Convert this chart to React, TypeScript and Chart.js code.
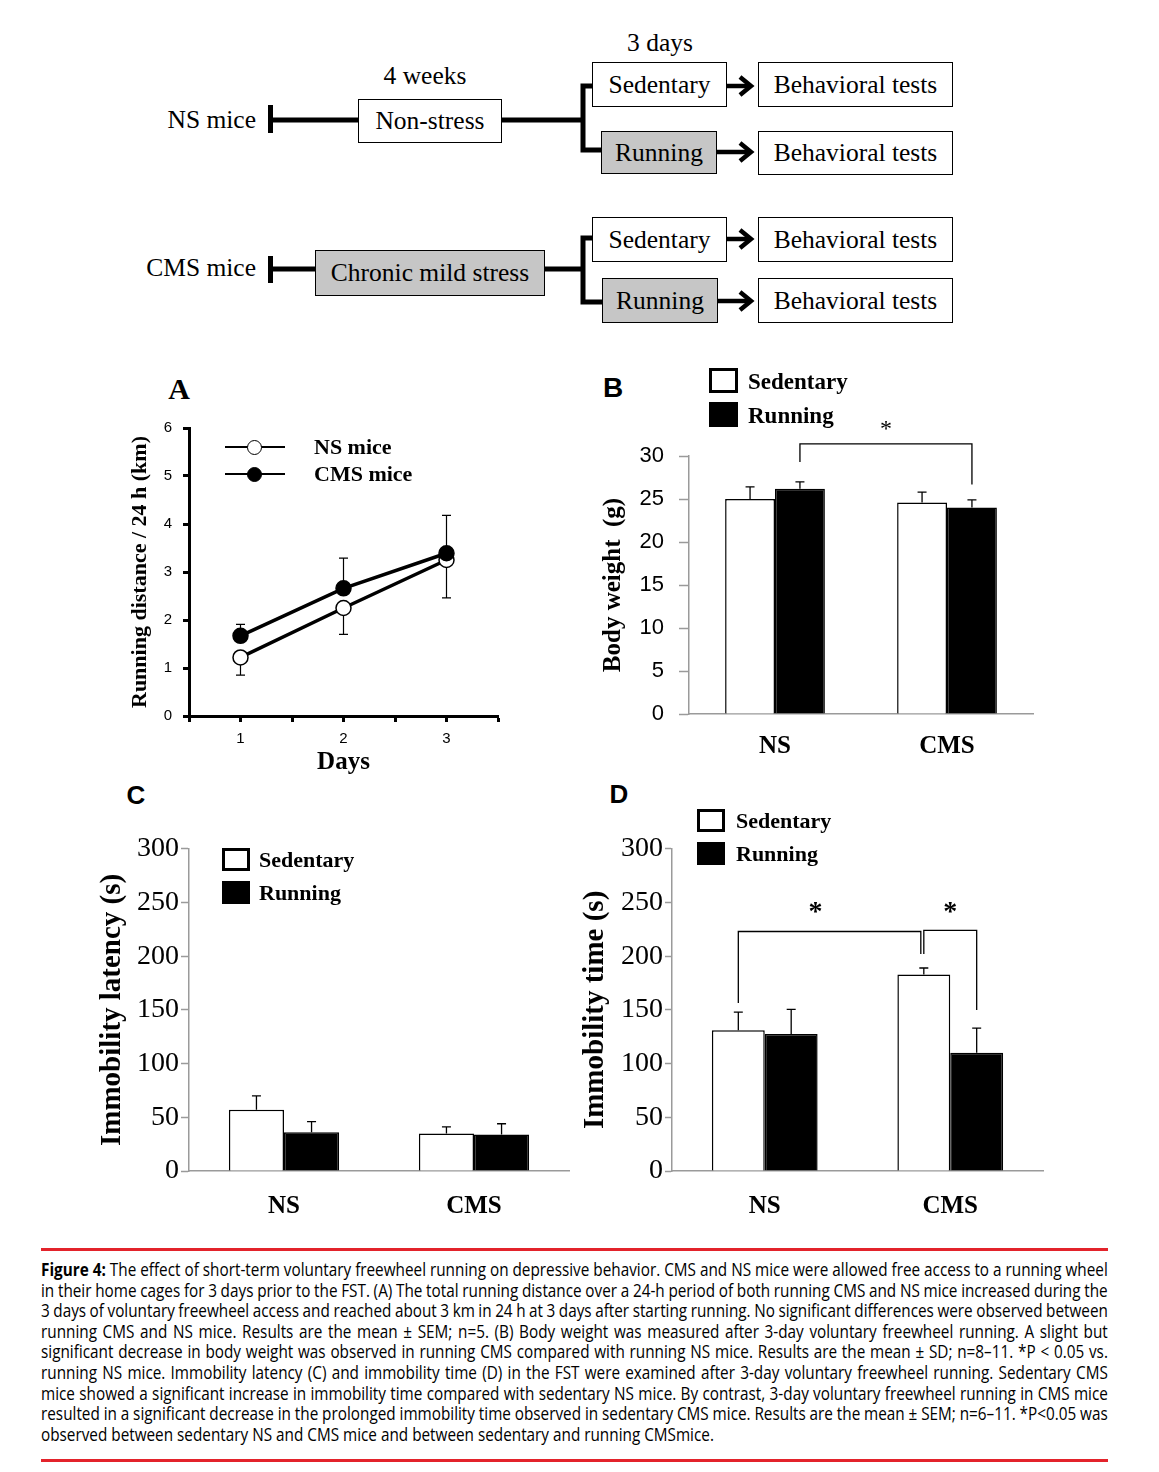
import React, { useEffect, useRef } from 'react';
import { Chart, registerables } from 'chart.js';

Chart.register(...registerables);

// ---------------- Data ----------------
const days = [1, 2, 3];
const nsDistance = [1.22, 2.25, 3.25];
const nsDistanceSem = [0.37, 0.55, 0.79];
const cmsDistance = [1.67, 2.66, 3.39];
const cmsDistanceSem = [0.24, 0.63, 0.79];

const groups = ['NS', 'CMS'];
const weightSedentary = [25.0, 24.6];
const weightSedentarySd = [1.4, 1.2];
const weightRunning = [26.2, 24.0];
const weightRunningSd = [0.8, 0.9];

const latencySedentary = [57, 35];
const latencySedentarySem = [13, 6];
const latencyRunning = [36, 34];
const latencyRunningSem = [10, 10];

const immobilitySedentary = [131, 183];
const immobilitySedentarySem = [17, 6];
const immobilityRunning = [127.5, 110];
const immobilityRunningSem = [23, 23];

const captionLines = [
  'Figure 4: The effect of short-term voluntary freewheel running on depressive behavior. CMS and NS mice were allowed free access to a running wheel',
  'in their home cages for 3 days prior to the FST. (A) The total running distance over a 24-h period of both running CMS and NS mice increased during the',
  '3 days of voluntary freewheel access and reached about 3 km in 24 h at 3 days after starting running. No significant differences were observed between',
  'running CMS and NS mice. Results are the mean ± SEM; n=5. (B) Body weight was measured after 3-day voluntary freewheel running. A slight but',
  'significant decrease in body weight was observed in running CMS compared with running NS mice. Results are the mean ± SD; n=8–11. *P < 0.05 vs.',
  'running NS mice. Immobility latency (C) and immobility time (D) in the FST were examined after 3-day voluntary freewheel running. Sedentary CMS',
  'mice showed a significant increase in immobility time compared with sedentary NS mice. By contrast, 3-day voluntary freewheel running in CMS mice',
  'resulted in a significant decrease in the prolonged immobility time observed in sedentary CMS mice. Results are the mean ± SEM; n=6–11. *P<0.05 was',
  'observed between sedentary NS and CMS mice and between sedentary and running CMSmice.',
];

// ---------------- Styles ----------------
const TIMES = '"Liberation Serif", "Times New Roman", serif';
const ARIAL = '"Liberation Sans", Arial, sans-serif';
const CAPTION_FONT = '"Open Sans", "Noto Sans", "DejaVu Sans", sans-serif';
const GRAY_BOX = '#c6c6c6';
const AXIS_GRAY = '#9a9a9a';

// ---------------- Plugins ----------------
function drawErrorBars(chart: any, opts: any) {
  const { ctx } = chart;
  const y = chart.scales.y;
  const cap = opts.cap ?? 4.5;
  ctx.save();
  ctx.strokeStyle = '#000';
  ctx.lineWidth = opts.lineWidth ?? 1.3;
  (opts.series || []).forEach((s: any) => {
    const meta = chart.getDatasetMeta(s.dataset);
    const ds = chart.data.datasets[s.dataset];
    meta.data.forEach((el: any, i: number) => {
      const raw: any = ds.data[i];
      const v = typeof raw === 'number' ? raw : raw.y;
      const e = s.errors[i];
      const end = s.direction === 'down' ? v - e : v + e;
      const px = el.x;
      const p0 = y.getPixelForValue(v);
      const p1 = y.getPixelForValue(end);
      ctx.beginPath();
      ctx.moveTo(px, p0);
      ctx.lineTo(px, p1);
      ctx.moveTo(px - cap, p1);
      ctx.lineTo(px + cap, p1);
      ctx.stroke();
    });
  });
  ctx.restore();
}

const errorBarsPlugin = {
  id: 'errorBars',
  beforeDatasetsDraw(chart: any, _a: any, opts: any) {
    if (opts && opts.behind) drawErrorBars(chart, opts);
  },
  afterDatasetsDraw(chart: any, _a: any, opts: any) {
    if (opts && !opts.behind) drawErrorBars(chart, opts);
  },
};

const bracketsPlugin = {
  id: 'brackets',
  afterDraw(chart: any, _a: any, opts: any) {
    if (!opts || !opts.items) return;
    const { ctx } = chart;
    const y = chart.scales.y;
    ctx.save();
    ctx.strokeStyle = '#000';
    ctx.fillStyle = '#000';
    ctx.lineWidth = opts.lineWidth ?? 1.3;
    opts.items.forEach((b: any) => {
      const x1 = chart.getDatasetMeta(b.from[0]).data[b.from[1]].x + (b.dx1 || 0);
      const x2 = chart.getDatasetMeta(b.to[0]).data[b.to[1]].x + (b.dx2 || 0);
      const top = y.getPixelForValue(b.top);
      ctx.beginPath();
      ctx.moveTo(x1, y.getPixelForValue(b.start));
      ctx.lineTo(x1, top);
      ctx.lineTo(x2, top);
      ctx.lineTo(x2, y.getPixelForValue(b.end));
      ctx.stroke();
      ctx.font = b.font;
      ctx.textAlign = 'center';
      ctx.textBaseline = 'middle';
      ctx.fillText(b.label, (x1 + x2) / 2 + (b.labelDx || 0), y.getPixelForValue(b.labelAt));
    });
    ctx.restore();
  },
};

// ---------------- Chart configs ----------------
function makeLineConfig(): any {
  const tickGrid = { drawOnChartArea: false, drawTicks: true, tickLength: 6, tickWidth: 3, tickColor: '#000', color: '#000' };
  return {
    type: 'line',
    data: {
      datasets: [
        {
          label: 'NS mice',
          data: days.map((d, i) => ({ x: d, y: nsDistance[i] })),
          order: 1,
          borderColor: '#000',
          borderWidth: 3.5,
          pointRadius: 7.5,
          pointBorderWidth: 1.5,
          pointBackgroundColor: '#fff',
          pointBorderColor: '#000',
        },
        {
          label: 'CMS mice',
          data: days.map((d, i) => ({ x: d, y: cmsDistance[i] })),
          order: 0,
          borderColor: '#000',
          borderWidth: 3.5,
          pointRadius: 7.5,
          pointBorderWidth: 1.5,
          pointBackgroundColor: '#000',
          pointBorderColor: '#000',
        },
      ],
    },
    options: {
      animation: false,
      responsive: true,
      maintainAspectRatio: false,
      layout: { padding: { left: 0, top: 28, right: 22, bottom: 0 } },
      plugins: {
        legend: { display: false },
        tooltip: { enabled: false },
        errorBars: {
          behind: true,
          cap: 4.5,
          lineWidth: 1.2,
          series: [
            { dataset: 0, errors: nsDistanceSem, direction: 'down' },
            { dataset: 1, errors: cmsDistanceSem, direction: 'up' },
          ],
        },
      },
      scales: {
        x: {
          type: 'linear',
          min: 0.5,
          max: 3.5,
          afterFit: (s: any) => { s.height = 64; },
          ticks: {
            stepSize: 0.5,
            autoSkip: false,
            maxRotation: 0,
            callback: (v: any) => (Number.isInteger(v) ? String(v) : ''),
            font: { family: ARIAL, size: 15 },
            color: '#000',
            padding: 8,
          },
          grid: tickGrid,
          border: { color: '#000', width: 3 },
          title: {
            display: true,
            text: 'Days',
            color: '#000',
            font: { family: TIMES, size: 25, weight: 'bold' },
            padding: { top: 0, bottom: 2 },
          },
        },
        y: {
          min: 0,
          max: 6,
          afterFit: (s: any) => { s.width = 89; },
          ticks: { stepSize: 1, font: { family: ARIAL, size: 15 }, color: '#000', padding: 11 },
          grid: tickGrid,
          border: { color: '#000', width: 3 },
          title: {
            display: true,
            text: 'Running distance / 24 h (km)',
            color: '#000',
            font: { family: TIMES, size: 22, weight: 'bold' },
            padding: { top: 27, bottom: 0 },
          },
        },
      },
    },
  };
}

interface BarSpec {
  sed: number[];
  sedErr: number[];
  run: number[];
  runErr: number[];
  yMax: number;
  yStep: number;
  yTitle: string;
  yTitleSize: number;
  yTitlePad: number;
  yWidth: number;
  xHeight: number;
  padTop: number;
  padRight: number;
  tickFont: any;
  tickLength: number;
  tickPad: number;
  xLabelPad: number;
  catPct: number;
  brackets: any[];
}

function makeBarConfig(s: BarSpec): any {
  return {
    type: 'bar',
    data: {
      labels: groups,
      datasets: [
        { label: 'Sedentary', data: s.sed, backgroundColor: '#fff', borderColor: '#000', borderWidth: 1.5 },
        { label: 'Running', data: s.run, backgroundColor: '#000', borderColor: '#000', borderWidth: 1.5 },
      ],
    },
    options: {
      animation: false,
      responsive: true,
      maintainAspectRatio: false,
      layout: { padding: { left: 0, top: s.padTop, right: s.padRight, bottom: 0 } },
      datasets: { bar: { categoryPercentage: s.catPct, barPercentage: 1 } },
      plugins: {
        legend: { display: false },
        tooltip: { enabled: false },
        errorBars: {
          behind: false,
          cap: 4.5,
          lineWidth: 1.3,
          series: [
            { dataset: 0, errors: s.sedErr, direction: 'up' },
            { dataset: 1, errors: s.runErr, direction: 'up' },
          ],
        },
        brackets: { lineWidth: 1.3, items: s.brackets },
      },
      scales: {
        x: {
          afterFit: (sc: any) => { sc.height = s.xHeight; },
          ticks: { font: { family: TIMES, size: 25, weight: 'bold' }, color: '#000', padding: s.xLabelPad },
          grid: { display: false, drawTicks: false },
          border: { color: AXIS_GRAY, width: 1.5 },
        },
        y: {
          min: 0,
          max: s.yMax,
          afterFit: (sc: any) => { sc.width = s.yWidth; },
          ticks: { stepSize: s.yStep, font: s.tickFont, color: '#000', padding: s.tickPad },
          grid: {
            drawOnChartArea: false,
            drawTicks: true,
            tickLength: s.tickLength,
            tickWidth: 1.5,
            tickColor: AXIS_GRAY,
            color: AXIS_GRAY,
          },
          border: { color: AXIS_GRAY, width: 1.5 },
          title: {
            display: true,
            text: s.yTitle,
            color: '#000',
            font: { family: TIMES, size: s.yTitleSize, weight: 'bold' },
            padding: { top: s.yTitlePad, bottom: 0 },
          },
        },
      },
    },
  };
}

const configB = () =>
  makeBarConfig({
    sed: weightSedentary,
    sedErr: weightSedentarySd,
    run: weightRunning,
    runErr: weightRunningSd,
    yMax: 30,
    yStep: 5,
    yTitle: 'Body weight  (g)',
    yTitleSize: 25,
    yTitlePad: 9,
    yWidth: 99,
    xHeight: 61,
    padTop: 41,
    padRight: 17,
    tickFont: { family: ARIAL, size: 22 },
    tickLength: 10,
    tickPad: 15,
    xLabelPad: 18,
    catPct: 0.58,
    brackets: [
      { from: [1, 0], to: [1, 1], start: 29.3, top: 31.4, end: 26.7, label: '*', labelAt: 33.1, font: `24px ${TIMES}` },
    ],
  });

const configC = () =>
  makeBarConfig({
    sed: latencySedentary,
    sedErr: latencySedentarySem,
    run: latencyRunning,
    runErr: latencyRunningSem,
    yMax: 300,
    yStep: 50,
    yTitle: 'Immobility latency (s)',
    yTitleSize: 29,
    yTitlePad: 5.6,
    yWidth: 99,
    xHeight: 59,
    padTop: 17,
    padRight: 11,
    tickFont: { family: TIMES, size: 28 },
    tickLength: 8,
    tickPad: 2,
    xLabelPad: 21,
    catPct: 0.58,
    brackets: [],
  });

const configD = () =>
  makeBarConfig({
    sed: immobilitySedentary,
    sedErr: immobilitySedentarySem,
    run: immobilityRunning,
    runErr: immobilityRunningSem,
    yMax: 300,
    yStep: 50,
    yTitle: 'Immobility time (s)',
    yTitleSize: 29,
    yTitlePad: 3.6,
    yWidth: 97,
    xHeight: 59,
    padTop: 17,
    padRight: 12,
    tickFont: { family: TIMES, size: 28 },
    tickLength: 7,
    tickPad: 2,
    xLabelPad: 21,
    catPct: 0.57,
    brackets: [
      { from: [0, 0], to: [0, 1], dx2: -3, start: 156.5, top: 223, end: 202, label: '*', labelDx: -14, labelAt: 240, font: `bold 28px ${TIMES}` },
      { from: [0, 1], to: [1, 1], dx1: 0, start: 202, top: 224, end: 150, label: '*', labelDx: 0, labelAt: 240, font: `bold 28px ${TIMES}` },
    ],
  });

// ---------------- Components ----------------
function ChartBox({ left, top, width, height, make }: { left: number; top: number; width: number; height: number; make: () => any }) {
  const ref = useRef<HTMLCanvasElement>(null);
  useEffect(() => {
    const cfg = make();
    cfg.plugins = [errorBarsPlugin, bracketsPlugin];
    const chart = new Chart(ref.current as HTMLCanvasElement, cfg);
    return () => chart.destroy();
  }, []);
  return (
    <div style={{ position: 'absolute', left, top, width, height }}>
      <canvas ref={ref} />
    </div>
  );
}

function Label({ x, y, size, bold = false, family = TIMES, anchor = 'middle', children }: any) {
  const tx = anchor === 'start' ? '0' : anchor === 'end' ? '-100%' : '-50%';
  return (
    <div
      style={{
        position: 'absolute',
        left: x,
        top: y,
        transform: `translate(${tx}, -50%)`,
        fontFamily: family,
        fontSize: size,
        fontWeight: bold ? 'bold' : 'normal',
        lineHeight: 1,
        whiteSpace: 'pre',
        color: '#000',
      }}
    >
      {children}
    </div>
  );
}

function BarLegend({ x, y1, y2, w, h, textX, size }: any) {
  return (
    <>
      <div style={{ position: 'absolute', left: x, top: y1, width: w, height: h, boxSizing: 'border-box', border: '3px solid #000', background: '#fff' }} />
      <div style={{ position: 'absolute', left: x, top: y2, width: w, height: h, background: '#000' }} />
      <Label x={textX} y={y1 + h / 2} size={size} bold anchor="start">Sedentary</Label>
      <Label x={textX} y={y2 + h / 2} size={size} bold anchor="start">Running</Label>
    </>
  );
}

function LineLegendItem({ y, filled, text }: any) {
  return (
    <>
      <div style={{ position: 'absolute', left: 225, top: y - 0.75, width: 60, height: 1.5, background: '#000' }} />
      <div
        style={{
          position: 'absolute',
          left: 254 - 7.5,
          top: y - 7.5,
          width: 15,
          height: 15,
          boxSizing: 'border-box',
          borderRadius: '50%',
          border: '1.5px solid #000',
          background: filled ? '#000' : '#fff',
        }}
      />
      <Label x={314} y={y} size={22} bold anchor="start">{text}</Label>
    </>
  );
}

const diagramBoxes = [
  { x: 358, y: 99, w: 144, h: 44, fill: '#fff', text: 'Non-stress' },
  { x: 592, y: 62, w: 135, h: 45, fill: '#fff', text: 'Sedentary' },
  { x: 601, y: 131, w: 116, h: 43, fill: GRAY_BOX, text: 'Running' },
  { x: 758, y: 62, w: 195, h: 45, fill: '#fff', text: 'Behavioral tests' },
  { x: 758, y: 131, w: 195, h: 44, fill: '#fff', text: 'Behavioral tests' },
  { x: 315, y: 250, w: 230, h: 46, fill: GRAY_BOX, text: 'Chronic mild stress' },
  { x: 592, y: 217, w: 135, h: 45, fill: '#fff', text: 'Sedentary' },
  { x: 602, y: 278, w: 116, h: 45, fill: GRAY_BOX, text: 'Running' },
  { x: 758, y: 217, w: 195, h: 45, fill: '#fff', text: 'Behavioral tests' },
  { x: 758, y: 278, w: 195, h: 45, fill: '#fff', text: 'Behavioral tests' },
];

function Arrow({ x1, y }: { x1: number; y: number }) {
  return (
    <>
      <path d={`M${x1} ${y} H748`} />
      <path d={`M740 ${y - 9} L751 ${y} L740 ${y + 9}`} fill="none" />
    </>
  );
}

function Diagram() {
  const fs = 25.5;
  return (
    <>
      <svg width={1159} height={340} style={{ position: 'absolute', left: 0, top: 0 }}>
        <g stroke="#000" strokeWidth={5} fill="none">
          <path d="M273 120 H358" />
          <path d="M502 120 H583" />
          <path d="M592 86 H583 V150 H601" />
          <path d="M273 269 H315" />
          <path d="M545 269 H583" />
          <path d="M592 238 H583 V302 H602" />
        </g>
        <g stroke="#000" strokeWidth={4.5} fill="none">
          <Arrow x1={727} y={86} />
          <Arrow x1={717} y={152} />
          <Arrow x1={727} y={239} />
          <Arrow x1={718} y={301} />
        </g>
        <rect x={268} y={105} width={5} height={28} fill="#000" />
        <rect x={268} y={256} width={5} height={27} fill="#000" />
      </svg>
      {diagramBoxes.map((b, i) => (
        <div
          key={i}
          style={{
            position: 'absolute',
            left: b.x,
            top: b.y,
            width: b.w,
            height: b.h,
            boxSizing: 'border-box',
            border: '1.5px solid #000',
            background: b.fill,
            display: 'flex',
            alignItems: 'center',
            justifyContent: 'center',
            fontFamily: TIMES,
            fontSize: fs,
            lineHeight: 1,
            whiteSpace: 'nowrap',
          }}
        >
          {b.text}
        </div>
      ))}
      <Label x={256} y={120} size={fs} anchor="end">NS mice</Label>
      <Label x={256} y={268} size={fs} anchor="end">CMS mice</Label>
      <Label x={425} y={76} size={fs}>4 weeks</Label>
      <Label x={660} y={43} size={fs}>3 days</Label>
    </>
  );
}

function Caption() {
  const top0 = 1269;
  const step = 20.6;
  const sx = 0.85;
  const innerW = 1067 / sx;
  return (
    <>
      <div style={{ position: 'absolute', left: 41, top: 1248, width: 1067, height: 3, background: '#e3232b' }} />
      <div style={{ position: 'absolute', left: 41, top: 1459, width: 1067, height: 3, background: '#e3232b' }} />
      {captionLines.map((line, i) => {
        const last = i === captionLines.length - 1;
        const words = line.split(' ');
        const common: any = {
          position: 'absolute',
          left: 41,
          width: innerW,
          top: top0 + i * step,
          transform: `translateY(-50%) scaleX(${sx})`,
          transformOrigin: 'left center',
          fontFamily: CAPTION_FONT,
          fontSize: 18,
          lineHeight: 1,
          whiteSpace: 'nowrap',
          color: '#000',
        };
        if (last) return <div key={i} style={common}>{line}</div>;
        return (
          <div key={i} style={{ ...common, display: 'flex', justifyContent: 'space-between' }}>
            {words.map((w, j) => (
              <span key={j} style={{ fontWeight: i === 0 && j < 2 ? 'bold' : 'normal', flexShrink: 0 }}>{w}</span>
            ))}
          </div>
        );
      })}
    </>
  );
}

export default function App() {
  return (
    <div style={{ position: 'absolute', left: 0, top: 0, width: 1159, height: 1472, background: '#fff', overflow: 'hidden' }}>
      <Diagram />

      {/* Panel A */}
      <Label x={179} y={389} size={30} bold>A</Label>
      <ChartBox left={100} top={400} width={420} height={380} make={makeLineConfig} />
      <LineLegendItem y={447} filled={false} text="NS mice" />
      <LineLegendItem y={474} filled text="CMS mice" />

      {/* Panel B */}
      <Label x={613} y={388} size={28} bold family={ARIAL}>B</Label>
      <ChartBox left={590} top={415} width={460} height={360} make={configB} />
      <BarLegend x={709} y1={368} y2={402} w={29} h={25} textX={748} size={23} />

      {/* Panel C */}
      <Label x={136} y={795} size={26} bold family={ARIAL}>C</Label>
      <ChartBox left={90} top={830} width={490} height={400} make={configC} />
      <BarLegend x={222} y1={848} y2={881} w={28} h={23} textX={259} size={22} />

      {/* Panel D */}
      <Label x={619} y={794} size={26} bold family={ARIAL}>D</Label>
      <ChartBox left={575} top={830} width={480} height={400} make={configD} />
      <BarLegend x={697} y1={809} y2={842} w={28} h={23} textX={736} size={22} />

      <Caption />
    </div>
  );
}
